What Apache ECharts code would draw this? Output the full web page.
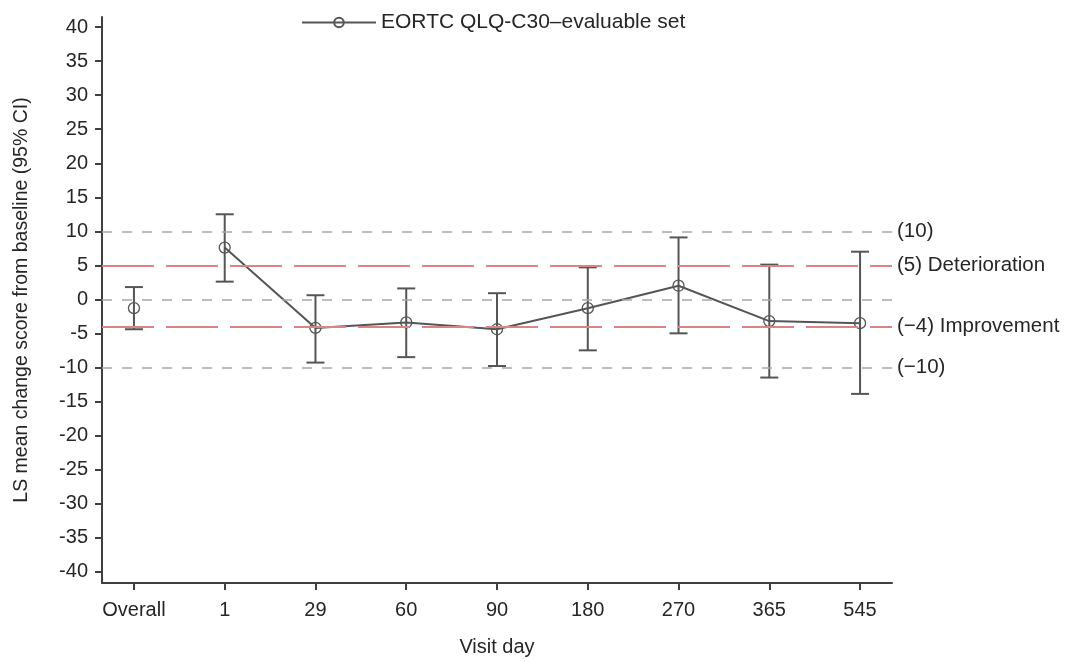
<!DOCTYPE html>
<html>
<head>
<meta charset="utf-8">
<script src="https://cdn.jsdelivr.net/npm/echarts@6/dist/echarts.min.js"></script>
<style>html,body{margin:0;padding:0;background:#fff}#c{width:1069px;height:662px}</style>
</head>
<body>
<div id="c"></div>
<script>
var categories = ['Overall', '1', '29', '60', '90', '180', '270', '365', '545'];
var means = [-1.3, 7.6, -4.2, -3.4, -4.4, -1.3, 2.0, -3.2, -3.5];
var lower = [-4.4, 2.6, -9.3, -8.5, -9.8, -7.5, -5.0, -11.5, -13.9];
var upper = [1.8, 12.5, 0.6, 1.6, 0.9, 4.7, 9.1, 5.1, 7.0];
var yTicks = [-40, -35, -30, -25, -20, -15, -10, -5, 0, 5, 10, 15, 20, 25, 30, 35, 40];
var refValues = [10, 5, 0, -4, -10];
var refLabels = ['(10)', '(5) Deterioration', '', '(\u22124) Improvement', '(\u221210)'];
var refKinds = ['grey', 'red', 'grey', 'red', 'grey'];
var seriesName = 'EORTC QLQ-C30\u2013evaluable set';

var dark = '#555555';
var textColor = '#262626';
var FONT = 'Liberation Sans, Arial, sans-serif';

var xIdx = categories.map(function (c, i) { return i; });
var lineData = [];
for (var i = 1; i < categories.length; i++) lineData.push([i, means[i]]);
var overallData = [[0, means[0]]];
var errData = categories.map(function (c, i) { return [i, lower[i], upper[i]]; });

var refStyles = {
  grey: { color: '#a6a6a6', width: 1.5, type: [10, 10] },
  red: { color: '#d98585', width: 1.8, type: [52, 12] }
};
var markData = refValues.map(function (v, i) {
  return {
    yAxis: v,
    lineStyle: refStyles[refKinds[i]],
    label: { show: refLabels[i] !== '', formatter: refLabels[i], position: 'end', distance: 5,
             color: textColor, fontSize: 20.5, fontFamily: FONT }
  };
});

var chart = echarts.init(document.getElementById('c'), null, { renderer: 'canvas' });
chart.setOption({
  animation: false,
  backgroundColor: '#ffffff',
  textStyle: { fontFamily: FONT },
  legend: {
    top: 7, left: 296,
    itemWidth: 74, itemHeight: 12,
    data: [seriesName],
    textStyle: { fontSize: 21, color: textColor, fontFamily: FONT }
  },
  grid: { left: 102, right: 177, top: 17, bottom: 75 },
  xAxis: {
    type: 'value', min: -0.352, max: 8.352,
    name: 'Visit day', nameLocation: 'middle', nameGap: 54,
    nameTextStyle: { fontSize: 20, color: textColor, fontFamily: FONT },
    splitLine: { show: false },
    axisLine: { show: true, onZero: false, lineStyle: { color: '#404040', width: 2 } },
    axisTick: { show: true, length: 7, customValues: xIdx, lineStyle: { color: '#404040', width: 2 } },
    axisLabel: { customValues: xIdx, margin: 17, fontSize: 20, color: textColor, fontFamily: FONT,
                 formatter: function (v) { return categories[Math.round(v)]; } }
  },
  yAxis: {
    type: 'value', min: -41.7, max: 41.5,
    name: 'LS mean change score from baseline (95% CI)', nameLocation: 'middle', nameGap: 70,
    nameTextStyle: { fontSize: 19.5, color: textColor, fontFamily: FONT },
    splitLine: { show: false },
    axisLine: { show: true, onZero: false, lineStyle: { color: '#404040', width: 2 } },
    axisTick: { show: true, length: 7, customValues: yTicks, lineStyle: { color: '#404040', width: 2 } },
    axisLabel: { customValues: yTicks, margin: 14, fontSize: 20, color: textColor, fontFamily: FONT }
  },
  series: [
    {
      name: 'refs', type: 'line', data: [], silent: true, z: 1,
      markLine: { symbol: ['none', 'none'], silent: true, animation: false, data: markData }
    },
    {
      name: 'errbars', type: 'custom', z: 3, silent: true,
      data: errData,
      renderItem: function (params, api) {
        var x = api.value(0);
        var lo = api.coord([x, api.value(1)]);
        var hi = api.coord([x, api.value(2)]);
        var hw = 9;
        var st = { stroke: dark, lineWidth: 2 };
        return {
          type: 'group',
          children: [
            { type: 'line', shape: { x1: lo[0], y1: lo[1], x2: hi[0], y2: hi[1] }, style: st },
            { type: 'line', shape: { x1: lo[0] - hw, y1: lo[1], x2: lo[0] + hw, y2: lo[1] }, style: st },
            { type: 'line', shape: { x1: hi[0] - hw, y1: hi[1], x2: hi[0] + hw, y2: hi[1] }, style: st }
          ]
        };
      }
    },
    {
      name: seriesName, type: 'line', data: lineData, z: 4,
      symbol: 'circle', symbolSize: 11,
      lineStyle: { color: dark, width: 2 },
      itemStyle: { color: 'rgba(255,255,255,0)', borderColor: dark, borderWidth: 1.3 }
    },
    {
      name: seriesName, type: 'line', data: overallData, z: 4,
      symbol: 'circle', symbolSize: 11,
      lineStyle: { color: dark, width: 2 },
      itemStyle: { color: 'rgba(255,255,255,0)', borderColor: dark, borderWidth: 1.3 }
    }
  ]
});
</script>
</body>
</html>
